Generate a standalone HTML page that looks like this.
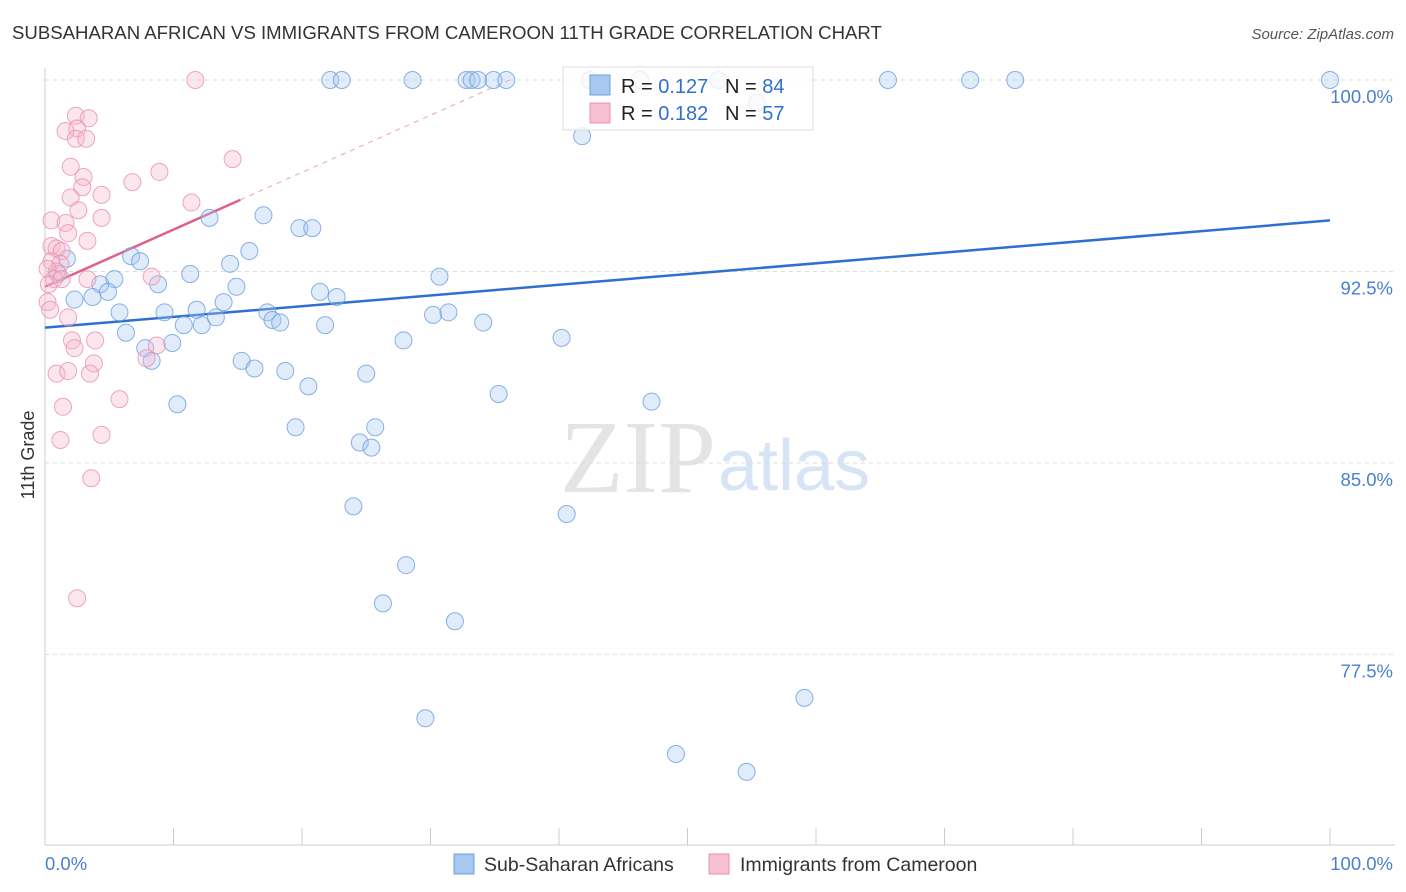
<!DOCTYPE html>
<html><head><meta charset="utf-8">
<style>
body{margin:0;background:#fff;font-family:"Liberation Sans",sans-serif;}
#wrap{position:relative;width:1406px;height:892px;overflow:hidden;}
</style></head>
<body>
<div id="wrap">
<svg id="chart" width="1406" height="892" xmlns="http://www.w3.org/2000/svg">
  <text x="12" y="39" font-size="18.6" fill="#333">SUBSAHARAN AFRICAN VS IMMIGRANTS FROM CAMEROON 11TH GRADE CORRELATION CHART</text>
  <text x="1394" y="39" font-size="15" fill="#555" font-style="italic" text-anchor="end">Source: ZipAtlas.com</text>
  <text x="0" y="0" transform="translate(34,455) rotate(-90)" font-size="18" fill="#333" text-anchor="middle">11th Grade</text>
  <text x="716" y="492" font-size="104" fill="#e4e4e4" text-anchor="end" font-family="Liberation Serif">ZIP</text>
  <text x="718" y="490" font-size="72" fill="#d6e4f6">atlas</text>
  <g id="grid"></g>
  <g id="axes"></g>
  <g id="trends"></g>
  <g id="pts"></g>
  <g>
    <rect x="563" y="67" width="250" height="63" fill="#fff" fill-opacity="0.8" stroke="#ddd"/>
    <rect x="590" y="75" width="20" height="20" fill="#a8c8f0" stroke="#6a9fe0"/>
    <text x="621" y="93" font-size="20" fill="#222">R = <tspan fill="#2f6fd0">0.127</tspan></text>
    <text x="725" y="93" font-size="20" fill="#222">N = <tspan fill="#2f6fd0">84</tspan></text>
    <rect x="590" y="103" width="20" height="20" fill="#f6c0d2" stroke="#e890b0"/>
    <text x="621" y="120" font-size="20" fill="#222">R = <tspan fill="#2f6fd0">0.182</tspan></text>
    <text x="725" y="120" font-size="20" fill="#222">N = <tspan fill="#2f6fd0">57</tspan></text>
  </g>
  <g>
    <rect x="454" y="854" width="20" height="20" fill="#a8c8f0" stroke="#6a9fe0"/>
    <text x="484" y="871" font-size="19.5" fill="#333">Sub-Saharan Africans</text>
    <rect x="709" y="854" width="20" height="20" fill="#f6c0d2" stroke="#e890b0"/>
    <text x="740" y="871" font-size="19.5" fill="#333">Immigrants from Cameroon</text>
  </g>
</svg>
</div>
<script>
const yTicks=[100,92.5,85,77.5];
const yTickLabels=["100.0%","92.5%","85.0%","77.5%"];
const xTickLabels=["0.0%","100.0%"];
const blueX=[22.2,23.1,28.6,32.8,33.2,33.7,34.9,35.9,42.4,65.6,72.0,75.5,100,52.4,46.3,41.8,55.4,12.8,17.0,19.8,20.8,6.7,7.4,15.9,14.4,11.3,5.4,4.3,4.9,3.7,2.3,1.7,1.0,8.8,14.9,13.9,11.8,21.4,22.7,30.7,5.8,9.3,10.8,12.2,13.3,17.3,17.7,18.3,21.8,30.2,31.4,34.1,6.3,7.8,9.9,8.3,15.3,16.3,18.7,20.5,25.0,27.9,40.2,35.3,47.2,10.3,19.5,24.5,25.4,25.7,24.0,40.6,28.1,26.3,31.9,29.6,59.1,49.1,54.6];
const blueY=[100,100,100,100,100,100,100,100,100,100,100,100,100,100,100,97.8,99.1,94.6,94.7,94.2,94.2,93.1,92.9,93.3,92.8,92.4,92.2,92.0,91.7,91.5,91.4,93.0,92.4,92.0,91.9,91.3,91.0,91.7,91.5,92.3,90.9,90.9,90.4,90.4,90.7,90.9,90.6,90.5,90.4,90.8,90.9,90.5,90.1,89.5,89.7,89.0,89.0,88.7,88.6,88.0,88.5,89.8,89.9,87.7,87.4,87.3,86.4,85.8,85.6,86.4,83.3,83.0,81.0,79.5,78.8,75.0,75.8,73.6,72.9];
const pinkX=[11.7,2.4,3.4,2.5,1.6,2.4,3.2,14.6,2.0,3.0,8.9,2.9,6.8,2.0,4.4,11.4,2.6,4.4,0.5,1.6,1.8,3.3,0.5,0.9,1.3,0.5,1.2,0.9,0.2,0.7,1.3,3.3,0.3,0.2,0.4,1.8,8.3,2.1,3.9,2.3,8.7,7.9,3.8,0.9,1.8,3.5,5.8,1.4,4.4,1.2,3.6,2.5];
const pinkY=[100,98.6,98.5,98.1,98.0,97.7,97.7,96.9,96.6,96.2,96.4,95.8,96.0,95.4,95.5,95.2,94.9,94.6,94.5,94.4,94.0,93.7,93.5,93.4,93.3,92.9,92.8,92.5,92.6,92.2,92.2,92.2,92.0,91.3,91.0,90.7,92.3,89.8,89.8,89.5,89.6,89.1,88.9,88.5,88.6,88.5,87.5,87.2,86.1,85.9,84.4,79.7];
const blueTrend=[90.3,94.5];   // y at x=0, x=100
const pinkTrend=[91.9,0.224];  // intercept, slope
const NS="http://www.w3.org/2000/svg";
const X=v=>45+v*12.85;
const Y=v=>80+(100-v)*25.53;
function mk(tag,attrs,parent){const e=document.createElementNS(NS,tag);for(const k in attrs)e.setAttribute(k,attrs[k]);document.getElementById(parent).appendChild(e);return e;}
yTicks.forEach((t,i)=>{
  const l=mk('line',{x1:45,x2:1395,y1:Y(t),y2:Y(t),stroke:'#ddd','stroke-dasharray':'4,4'},'grid');
  
  
  const tx=mk('text',{x:1393,y:Y(t)+23,'font-size':18.5,fill:'#4a7fd0','text-anchor':'end'},'grid');
  tx.textContent=yTickLabels[i];
  
  
});
const ax=mk('line',{x1:45,x2:45,y1:68,y2:845,stroke:'#ccc'},'axes');


const bx=mk('line',{x1:45,x2:1395,y1:845,y2:845,stroke:'#ccc'},'axes');


for(let i=0;i<=10;i++){
  const t=mk('line',{x1:X(i*10),x2:X(i*10),y1:828,y2:845,stroke:'#ccc'},'axes');
  
  
}
const xl0=mk('text',{x:45,y:870,'font-size':18.5,fill:'#4a7fd0'},'axes');xl0.textContent=xTickLabels[0];


const xl1=mk('text',{x:1393,y:870,'font-size':18.5,fill:'#4a7fd0','text-anchor':'end'},'axes');xl1.textContent=xTickLabels[1];


function pt(x,y,fill,stroke,name){
  const c=mk('circle',{cx:X(x),cy:Y(y),r:8.5,fill:fill,'fill-opacity':0.35,stroke:stroke,'stroke-width':1,'stroke-opacity':0.8},'pts');
  
  
}
blueX.forEach((x,i)=>pt(x,blueY[i],'#a8c8f0','#6a9fe0','point-subsaharan'));
pinkX.forEach((x,i)=>pt(x,pinkY[i],'#f6b8cc','#e890b0','point-cameroon'));
const bt=mk('line',{x1:X(0),y1:Y(blueTrend[0]),x2:X(100),y2:Y(blueTrend[1]),stroke:'#2f6fd0','stroke-width':2.5},'trends');


const pEnd=15.2, pDash=(100-pinkTrend[0])/pinkTrend[1];
const pt1=mk('line',{x1:X(0),y1:Y(pinkTrend[0]),x2:X(pEnd),y2:Y(pinkTrend[0]+pinkTrend[1]*pEnd),stroke:'#e0608c','stroke-width':2.5},'trends');


const pt2=mk('line',{x1:X(pEnd),y1:Y(pinkTrend[0]+pinkTrend[1]*pEnd),x2:X(pDash),y2:Y(100),stroke:'#e8a0b8','stroke-width':1,'stroke-dasharray':'5,5'},'trends');


</script>
</body></html>
